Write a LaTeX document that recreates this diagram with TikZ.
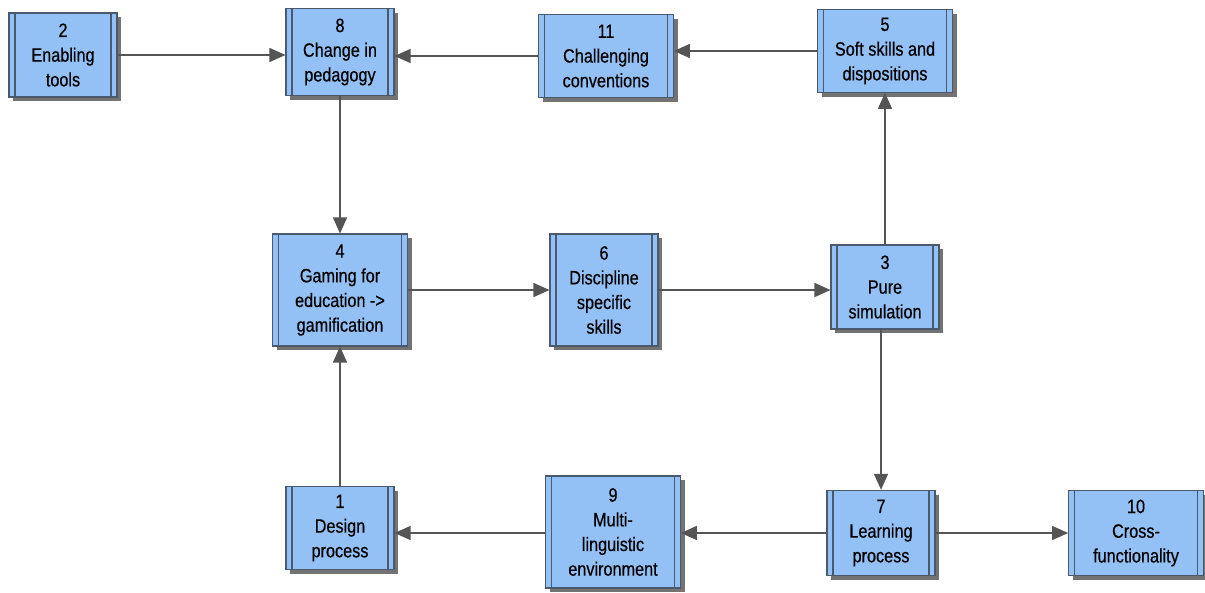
\documentclass[tikz,border=0pt]{standalone}
\usepackage{fontspec}
\setmainfont{Liberation Sans}[FakeStretch=0.84,FakeBold=0.5]
\usepackage{tikz}
\usetikzlibrary{arrows.meta,shadows}

\definecolor{boxblue}{HTML}{94C1F5}
\definecolor{boxline}{HTML}{4A5A6C}
\definecolor{arrowgray}{HTML}{555555}

\begin{document}
\begin{tikzpicture}[x=0.75pt,y=-0.75pt,
  proc/.style={draw=boxline,fill=boxblue,line width=0.8pt,align=center,
    inner sep=0pt,font=\fontsize{14.5}{18.5}\selectfont,
    drop shadow={shadow xshift=3.2pt,shadow yshift=-3.2pt,fill=black!55,opacity=1},
    path picture={
      \draw[boxline,line width=0.8pt]
        ([xshift=4.5pt]path picture bounding box.north west) -- ([xshift=4.5pt]path picture bounding box.south west)
        ([xshift=-4.5pt]path picture bounding box.north east) -- ([xshift=-4.5pt]path picture bounding box.south east);}},
  narrow/.style={proc,minimum width=81pt},
  wide/.style={proc,minimum width=101pt},
  flow/.style={draw=arrowgray,line width=1.1pt,-{Triangle[length=12pt,width=10.5pt]}}]
  \useasboundingbox (0,0) rectangle (1205,592);
  % top row
  \node[narrow,minimum height=63pt] (tools) at (63,55) {2\\Enabling\\tools};
  \node[narrow,minimum height=65pt] (pedagogy) at (340,52) {8\\Change in\\pedagogy};
  \node[wide,minimum height=62pt] (conventions) at (606,56) {11\\Challenging\\conventions};
  \node[wide,minimum height=62pt] (softskills) at (885,51) {5\\Soft skills and\\dispositions};
  % middle row
  \node[wide,minimum height=84pt] (gaming) at (340,290) {4\\Gaming for\\education ->\\gamification};
  \node[narrow,minimum height=84pt] (discipline) at (604,290) {6\\Discipline\\specific\\skills};
  \node[narrow,minimum height=63pt] (puresim) at (885,287) {3\\Pure\\simulation};
  % bottom row
  \node[narrow,minimum height=62pt] (design) at (340,528) {1\\Design\\process};
  \node[wide,minimum height=84pt] (multiling) at (613,532) {9\\Multi-\\linguistic\\environment};
  \node[narrow,minimum height=64pt] (learning) at (881,533) {7\\Learning\\process};
  \node[wide,minimum height=64pt] (crossfunc) at (1136,533) {10\\Cross-\\functionality};

  \draw[flow] (tools) -- (pedagogy.west |- tools);
  \draw[flow] (conventions.west) -- (conventions.west -| pedagogy.east);
  \draw[flow] (softskills) -- (conventions.east |- softskills);
  \draw[flow] (pedagogy) -- (gaming);
  \draw[flow] (gaming) -- (discipline);
  \draw[flow] (discipline) -- (puresim.west |- discipline);
  \draw[flow] (puresim.north -| softskills) -- (softskills);
  \draw[flow] (puresim.south -| learning) -- (learning);
  \draw[flow] (learning) -- (multiling.east |- learning);
  \draw[flow] (multiling.west |- learning) -- (design.east |- learning);
  \draw[flow] (design) -- (gaming);
  \draw[flow] (learning) -- (crossfunc);
\end{tikzpicture}
\end{document}
